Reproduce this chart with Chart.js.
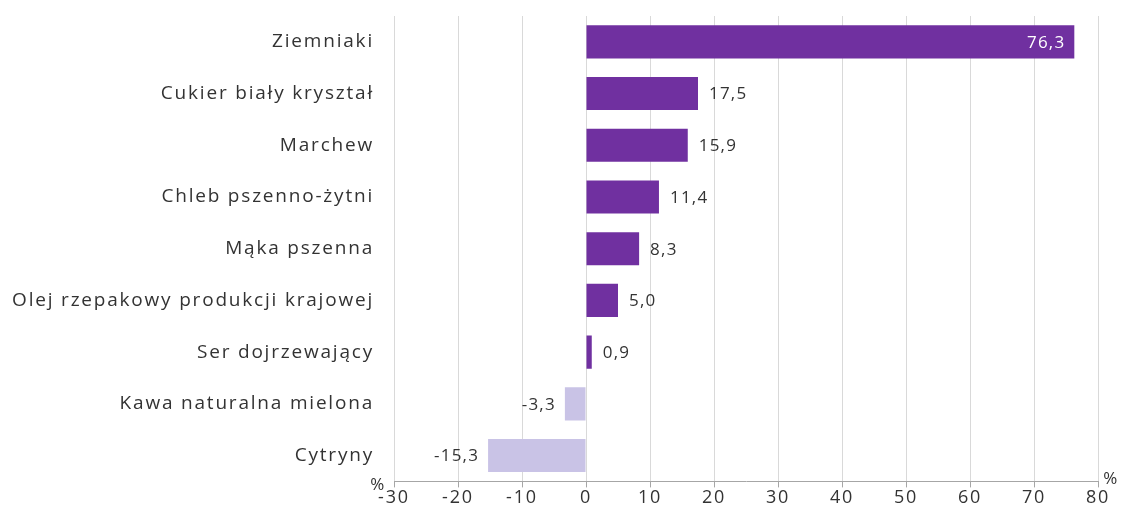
<!DOCTYPE html>
<html>
<head>
<meta charset="utf-8">
<script src="https://cdn.jsdelivr.net/npm/chart.js@4"></script>
<style>
  html, body { margin: 0; padding: 0; background: #fff; }
  #wrap { width: 1122px; height: 513px; position: relative; }
</style>
</head>
<body>
<div id="wrap"><canvas id="myChart"></canvas></div>
<script>
const categories = [
    'Ziemniaki',
    'Cukier biały kryształ',
    'Marchew',
    'Chleb pszenno-żytni',
    'Mąka pszenna',
    'Olej rzepakowy produkcji krajowej',
    'Ser dojrzewający',
    'Kawa naturalna mielona',
    'Cytryny'
];
const changes = [76.3, 17.5, 15.9, 11.4, 8.3, 5.0, 0.9, -3.3, -15.3];
const xTicks = [-30, -20, -10, 0, 10, 20, 30, 40, 50, 60, 70, 80];

const fontFamily = '"Open Sans", "Noto Sans", sans-serif';
const textColor = '#333333';
const spacing = '1.8px';

function fmt(v) {
    return v.toFixed(1).replace('.', ',');
}

// rozstrzelone litery jak w oryginale
const letterSpacing = {
    id: 'letterSpacing',
    beforeDraw(chart) {
        chart.ctx.letterSpacing = spacing;
    }
};

// etykiety wartości przy słupkach + znaki % przy osi
const valueLabels = {
    id: 'valueLabels',
    afterDatasetsDraw(chart) {
        const ctx = chart.ctx;
        const meta = chart.getDatasetMeta(0);
        ctx.save();
        ctx.letterSpacing = '1.2px';
        ctx.font = '17px ' + fontFamily;
        ctx.textBaseline = 'middle';
        meta.data.forEach((bar, i) => {
            const v = changes[i];
            if (v > 50) {
                ctx.fillStyle = '#ffffff';
                ctx.textAlign = 'right';
                ctx.fillText(fmt(v), bar.x - 9, bar.y + 1);
            } else if (v >= 0) {
                ctx.fillStyle = textColor;
                ctx.textAlign = 'left';
                ctx.fillText(fmt(v), bar.x + 11, bar.y + 1);
            } else {
                ctx.fillStyle = textColor;
                ctx.textAlign = 'right';
                ctx.fillText(fmt(v), bar.x - 9, bar.y + 1);
            }
        });
        const area = chart.chartArea;
        ctx.fillStyle = textColor;
        ctx.textAlign = 'center';
        ctx.fillText('%', area.left - 16, area.bottom + 4);
        ctx.fillText('%', area.right + 13, area.bottom - 2);
        ctx.restore();
    }
};

const config = {
    type: 'bar',
    data: {
        labels: categories,
        datasets: [{
            data: changes,
            backgroundColor: changes.map(v => v >= 0 ? '#7030a0' : '#c9c3e6'),
            borderWidth: 0,
            barPercentage: 0.64,
            categoryPercentage: 1.0
        }]
    },
    options: {
        indexAxis: 'y',
        responsive: true,
        maintainAspectRatio: false,
        animation: false,
        layout: { padding: { top: 16, right: 24, bottom: 4, left: 0 } },
        plugins: {
            legend: { display: false },
            tooltip: { enabled: false }
        },
        scales: {
            x: {
                min: -30,
                max: 80,
                afterBuildTicks: axis => { axis.ticks = xTicks.map(v => ({ value: v })); },
                grid: {
                    color: '#d9d9d9',
                    lineWidth: 1,
                    drawTicks: true,
                    tickLength: 6,
                    tickColor: '#a6a6a6'
                },
                border: { display: true, color: '#a6a6a6' },
                ticks: {
                    color: textColor,
                    font: { size: 18, family: fontFamily },
                    padding: 0,
                    maxRotation: 0
                }
            },
            y: {
                afterFit: axis => {
                    axis.width = 394;
                    axis.paddingTop = 0;
                    axis.paddingBottom = 0;
                },
                grid: { display: false },
                border: { display: false },
                ticks: {
                    color: textColor,
                    font: { size: 19, family: fontFamily },
                    padding: 12
                }
            }
        }
    },
    plugins: [letterSpacing, valueLabels]
};

new Chart(document.getElementById('myChart'), config);
</script>
</body>
</html>
